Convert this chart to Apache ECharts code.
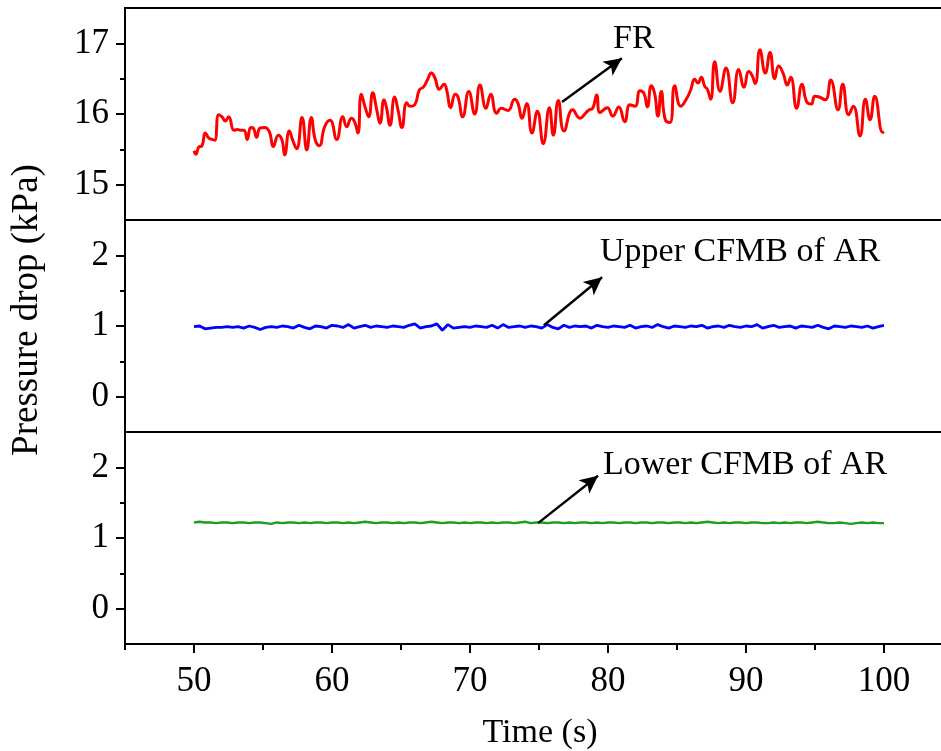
<!DOCTYPE html>
<html><head><meta charset="utf-8">
<script src="https://cdn.jsdelivr.net/npm/echarts@6/dist/echarts.min.js"></script>
<style>html,body{margin:0;padding:0;background:#fff;overflow:hidden;width:941px;height:751px}#c{width:980px;height:751px}</style>
</head><body><div id="c"></div>
<script>
// ---- data ----
const frTime = [50.0,50.14,50.34,50.58,50.82,51.07,51.30,51.50,51.79,52.03,52.27,52.51,52.90,53.14,53.38,53.62,53.86,54.11,54.30,54.54,54.78,55.12,55.46,55.75,56.11,56.38,56.57,56.91,57.15,57.44,57.83,58.17,58.50,58.79,59.08,59.47,59.86,60.34,60.78,61.07,61.40,61.64,61.88,62.12,62.41,62.66,62.95,63.24,63.48,63.77,63.96,64.20,64.54,64.78,65.07,65.41,65.65,65.99,66.33,66.62,66.91,67.20,67.44,67.78,68.12,68.31,68.60,68.93,69.13,69.47,69.91,70.34,70.72,71.16,71.50,71.93,72.27,72.75,73.24,73.48,73.77,74.11,74.49,74.88,75.31,75.75,76.04,76.40,76.81,77.44,77.97,78.41,78.64,78.89,79.18,79.42,79.95,80.34,80.78,81.21,81.59,81.96,82.32,82.61,82.85,83.14,83.38,83.62,83.86,84.15,84.49,84.83,85.27,85.70,85.99,86.28,86.52,86.76,87.01,87.20,87.44,87.73,88.12,88.55,89.04,89.47,89.86,90.20,90.43,90.67,91.01,91.40,91.74,92.08,92.37,92.70,92.99,93.24,93.67,94.06,94.40,94.73,94.98,95.31,95.75,96.14,96.67,97.01,97.44,97.78,98.26,98.65,98.99,99.33,99.91,100.0];
const frValue = [15.48,15.43,15.53,15.55,15.73,15.66,15.64,15.63,15.99,15.96,15.90,15.96,15.77,15.78,15.77,15.77,15.64,15.81,15.80,15.67,15.80,15.81,15.75,15.54,15.70,15.63,15.42,15.76,15.63,15.51,15.95,15.49,15.95,15.63,15.55,15.82,15.91,15.64,15.96,15.82,15.94,15.89,15.73,16.28,16.09,15.96,16.30,16.06,15.87,16.20,16.08,15.84,16.24,16.06,15.81,16.16,16.11,16.13,16.34,16.38,16.48,16.58,16.52,16.35,16.42,16.34,16.09,16.28,16.24,15.96,16.32,16.00,16.41,16.08,16.28,16.01,16.08,16.05,16.21,16.15,15.94,16.15,15.73,16.04,15.58,16.09,15.70,16.19,15.76,16.06,15.94,16.02,16.06,16.08,16.27,16.02,16.09,15.97,16.10,15.89,16.13,16.11,16.33,16.29,16.10,16.40,16.29,15.97,16.32,15.92,15.88,16.40,16.11,16.22,16.34,16.49,16.44,16.52,16.39,16.35,16.21,16.74,16.32,16.65,16.16,16.63,16.38,16.60,16.55,16.43,16.91,16.58,16.87,16.50,16.68,16.57,16.41,16.52,16.08,16.42,16.17,16.14,16.25,16.24,16.20,16.48,16.06,16.42,15.99,16.11,15.69,16.21,15.92,16.25,15.74,15.75];
const arStart = 50, arStep = 0.4;
const upperValue = [0.99,1.00,0.96,0.97,0.98,0.98,0.99,0.98,0.99,0.97,
1.00,0.98,0.95,0.98,0.99,0.98,1.00,0.99,0.97,1.01,
0.98,0.96,1.00,0.99,0.97,1.01,1.00,0.98,1.02,0.97,
0.99,1.01,0.98,1.00,0.99,0.98,1.00,0.99,0.98,1.01,
1.03,0.97,0.99,1.00,1.03,0.94,1.02,0.97,0.98,0.99,
0.98,1.00,0.99,0.98,1.01,0.97,1.02,0.98,0.99,1.00,
0.98,1.00,0.99,0.97,1.02,0.98,0.96,1.01,0.98,1.00,
0.99,1.00,0.97,1.01,0.99,0.98,1.00,0.99,0.98,1.01,
0.97,0.99,1.00,0.98,1.02,0.99,0.97,1.00,0.99,0.98,
1.00,0.99,1.01,0.97,0.99,1.00,0.98,1.01,0.99,0.98,
1.00,0.99,1.02,0.97,0.99,1.01,0.98,0.99,1.00,0.97,
1.00,0.99,0.98,1.01,0.98,0.96,1.00,0.99,0.98,1.00,
0.99,0.98,1.00,0.97,0.99,1.01];
const lowerValue = [1.22,1.23,1.22,1.22,1.21,1.22,1.22,1.21,1.22,1.22,
1.21,1.22,1.22,1.21,1.20,1.22,1.21,1.22,1.22,1.21,
1.22,1.21,1.22,1.22,1.21,1.22,1.22,1.21,1.22,1.21,
1.22,1.23,1.22,1.21,1.22,1.22,1.21,1.22,1.21,1.22,
1.22,1.21,1.22,1.23,1.22,1.21,1.22,1.22,1.21,1.22,
1.21,1.22,1.22,1.21,1.22,1.21,1.22,1.22,1.21,1.22,
1.23,1.21,1.22,1.22,1.21,1.22,1.22,1.21,1.22,1.21,
1.22,1.22,1.21,1.22,1.21,1.22,1.22,1.21,1.22,1.22,
1.21,1.22,1.22,1.21,1.22,1.22,1.21,1.22,1.22,1.21,
1.22,1.21,1.22,1.23,1.22,1.21,1.22,1.21,1.22,1.22,
1.21,1.22,1.22,1.21,1.21,1.22,1.21,1.22,1.21,1.22,
1.22,1.21,1.22,1.23,1.22,1.21,1.21,1.22,1.21,1.20,
1.21,1.22,1.21,1.22,1.21,1.21];
const xMajorTicks = [50,60,70,80,90,100];
const xMinorTicks = [45,55,65,75,85,95];
const frMajorTicks = [15,16,17];
const frMinorTicks = [15.5,16.5];
const arMajorTicks = [0,1,2];
const arMinorTicks = [0.5,1.5];
const seriesNames = ['FR','Upper CFMB of AR','Lower CFMB of AR'];
const xTitle = 'Time (s)';
const yTitle = 'Pressure drop (kPa)';

// ---- build ----
const FONT = 'Liberation Serif';
const L = 125, W = 828, H = 212, TOP = 8;
const X_MIN = 45, X_MAX = 105;
const frData = frTime.map((t,i)=>[t, frValue[i]]);
const upperData = upperValue.map((v,i)=>[arStart + i*arStep, v]);
const lowerData = lowerValue.map((v,i)=>[arStart + i*arStep, v]);
const AX = {color:'#000', width:2};
const NOLINE = {show:false, onZero:false};

function grid(i){ return {left:L, top:TOP + i*H, width:W, height:H, show:false, containLabel:false, outerBoundsMode:'none'}; }
function lineX(g, pos){ return {gridIndex:g, type:'value', min:X_MIN, max:X_MAX, position:pos,
  axisLine:{show:true, onZero:false, lineStyle:AX}, axisTick:{show:false}, axisLabel:{show:false}, splitLine:{show:false}}; }
function hiddenX(g){ return {gridIndex:g, type:'value', min:X_MIN, max:X_MAX, position:'bottom',
  axisLine:NOLINE, axisTick:{show:false}, axisLabel:{show:false}, splitLine:{show:false}}; }
function mainY(g, mn, mx, ticks){
  return {gridIndex:g, type:'value', min:mn, max:mx, position:'left',
    axisLine:{show:true, onZero:false, lineStyle:AX},
    axisTick:{show:true, inside:false, length:9, lineStyle:AX, customValues:ticks},
    axisLabel:{show:true, customValues:ticks, color:'#000', fontFamily:FONT, fontSize:35, margin:16},
    splitLine:{show:false}};
}
function minorY(g, mn, mx, ticks){
  return {gridIndex:g, type:'value', min:mn, max:mx, position:'left',
    axisLine:NOLINE,
    axisTick:{show:true, inside:false, length:5, lineStyle:AX, customValues:ticks},
    axisLabel:{show:false}, splitLine:{show:false}};
}
const arrowStyle = {symbol:['none','arrow'], symbolSize:[13,18], silent:true, animation:false,
  lineStyle:{color:'#000', width:2.4, type:'solid'}, label:{show:false}, emphasis:{disabled:true}};

const chart = echarts.init(document.getElementById('c'), null, {renderer:'canvas'});
chart.setOption({
  animation:false,
  backgroundColor:'#fff',
  // grids 0-2: panels; grids 3-5: same rectangles, carrying only the minor ticks / top frame line
  grid:[grid(0), grid(1), grid(2), grid(0), grid(1), grid(2)],
  xAxis:[
    lineX(0,'bottom'), lineX(1,'bottom'),
    {gridIndex:2, type:'value', min:X_MIN, max:X_MAX, position:'bottom',
      axisLine:{show:true, onZero:false, lineStyle:AX},
      axisTick:{show:true, inside:false, length:9, lineStyle:AX, customValues:xMajorTicks},
      axisLabel:{show:true, customValues:xMajorTicks, color:'#000', fontFamily:FONT, fontSize:35, margin:20},
      splitLine:{show:false}},
    lineX(3,'top'),
    hiddenX(4),
    {gridIndex:5, type:'value', min:X_MIN, max:X_MAX, position:'bottom',
      axisLine:NOLINE,
      axisTick:{show:true, inside:false, length:6, lineStyle:AX, customValues:xMinorTicks},
      axisLabel:{show:false}, splitLine:{show:false}}
  ],
  yAxis:[
    mainY(0,14.5,17.5,frMajorTicks),
    mainY(1,-0.5,2.5,arMajorTicks),
    mainY(2,-0.5,2.5,arMajorTicks),
    minorY(3,14.5,17.5,frMinorTicks),
    minorY(4,-0.5,2.5,arMinorTicks),
    minorY(5,-0.5,2.5,arMinorTicks)
  ],
  series:[
    {name:seriesNames[0], type:'line', xAxisIndex:0, yAxisIndex:0, data:frData, showSymbol:false, smooth:0.5,
      lineStyle:{color:'#ff0000', width:3}, itemStyle:{color:'#ff0000'},
      markLine:Object.assign({data:[[{coord:[76.67,16.17]},{coord:[81.01,16.79]}]]}, arrowStyle)},
    {name:seriesNames[1], type:'line', xAxisIndex:1, yAxisIndex:1, data:upperData, showSymbol:false,
      lineStyle:{color:'#0000ff', width:2.8}, itemStyle:{color:'#0000ff'},
      markLine:Object.assign({data:[[{coord:[75.36,1.01]},{coord:[79.57,1.69]}]]}, arrowStyle)},
    {name:seriesNames[2], type:'line', xAxisIndex:2, yAxisIndex:2, data:lowerData, showSymbol:false,
      lineStyle:{color:'#1e9e1e', width:2.4}, itemStyle:{color:'#1e9e1e'},
      markLine:Object.assign({data:[[{coord:[74.93,1.21]},{coord:[79.28,1.88]}]]}, arrowStyle)}
  ],
  graphic:[
    {type:'text', left:613, top:22, style:{text:seriesNames[0], fill:'#000', font:'34px "Liberation Serif"'}},
    {type:'text', left:600, top:235, style:{text:seriesNames[1], fill:'#000', font:'34px "Liberation Serif"'}},
    {type:'text', left:603, top:448, style:{text:seriesNames[2], fill:'#000', font:'34px "Liberation Serif"'}},
    {type:'text', x:540, y:733,
      style:{text:xTitle, fill:'#000', font:'34px "Liberation Serif"', align:'center', verticalAlign:'middle'}},
    {type:'text', x:27, y:310, rotation:Math.PI/2,
      style:{text:yTitle, fill:'#000', font:'37px "Liberation Serif"', align:'center', verticalAlign:'middle'}}
  ]
});
</script></body></html>
